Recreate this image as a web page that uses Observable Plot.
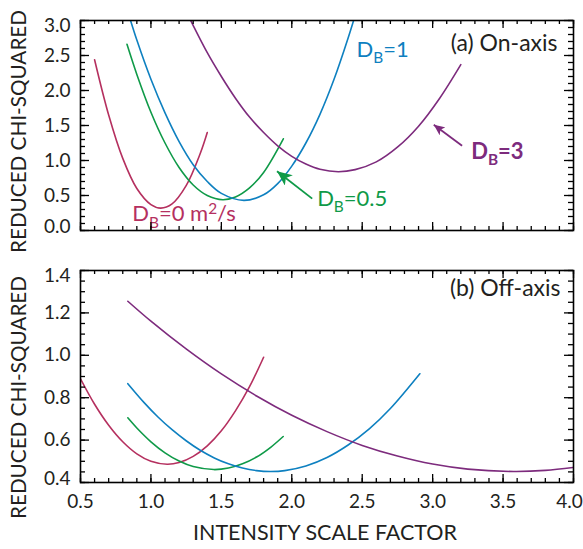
<!DOCTYPE html>
<html><head><meta charset="utf-8">
<script src="https://cdn.jsdelivr.net/npm/d3@7"></script>
<script src="https://cdn.jsdelivr.net/npm/@observablehq/plot@0.6"></script>
<style>
body{margin:0;background:#fff;}
#chart{width:583px;height:549px;position:relative;font-family:Lato,sans-serif;}
#chart svg{display:block;}
</style></head><body><div id="chart"></div>
<script>
// ---------- data ----------
const seriesNames = ["0", "0.5", "1", "3"];
const seriesColors = ["#b5305f", "#0f9a48", "#0e80c0", "#7d2b7d"];

// (a) On-axis
const onX_0  = [0.60, 0.70, 0.80, 0.90, 1.00, 1.07, 1.15, 1.25, 1.35, 1.40];
const onY_0  = [2.44, 1.65, 1.03, 0.60, 0.37, 0.32, 0.38, 0.64, 1.10, 1.40];
const onX_05 = [0.83, 0.90, 1.00, 1.10, 1.20, 1.30, 1.40, 1.51, 1.60, 1.70, 1.80, 1.94];
const onY_05 = [2.66, 2.23, 1.69, 1.25, 0.90, 0.65, 0.50, 0.44, 0.48, 0.61, 0.83, 1.31];
const onX_1  = [0.84, 0.90, 1.00, 1.10, 1.20, 1.30, 1.40, 1.50, 1.66, 1.80, 1.90, 2.00, 2.10, 2.20, 2.30, 2.40, 2.46];
const onY_1  = [3.10, 2.72, 2.16, 1.68, 1.27, 0.94, 0.70, 0.53, 0.43, 0.51, 0.67, 0.92, 1.25, 1.66, 2.16, 2.75, 3.14];
const onX_3  = [1.26, 1.40, 1.50, 1.60, 1.70, 1.80, 1.90, 2.00, 2.10, 2.20, 2.33, 2.45, 2.60, 2.75, 2.90, 3.05, 3.20];
const onY_3  = [3.09, 2.54, 2.20, 1.89, 1.62, 1.40, 1.21, 1.06, 0.95, 0.875, 0.84, 0.87, 0.98, 1.19, 1.49, 1.89, 2.37];

// (b) Off-axis
const offX_0  = [0.50, 0.60, 0.70, 0.80, 0.90, 1.00, 1.115, 1.20, 1.30, 1.40, 1.50, 1.60, 1.70, 1.80];
const offY_0  = [0.889, 0.769, 0.670, 0.592, 0.535, 0.500, 0.486, 0.494, 0.523, 0.573, 0.644, 0.738, 0.852, 0.991];
const offX_05 = [0.836, 0.90, 1.00, 1.10, 1.20, 1.30, 1.446, 1.55, 1.65, 1.75, 1.85, 1.939];
const offY_05 = [0.705, 0.657, 0.592, 0.540, 0.501, 0.475, 0.461, 0.468, 0.488, 0.520, 0.566, 0.617];
const offX_1  = [0.836, 0.95, 1.05, 1.15, 1.25, 1.35, 1.45, 1.55, 1.65, 1.75, 1.849, 1.95, 2.10, 2.25, 2.40, 2.55, 2.70, 2.909];
const offY_1  = [0.866, 0.778, 0.709, 0.649, 0.597, 0.552, 0.516, 0.488, 0.468, 0.456, 0.452, 0.456, 0.478, 0.518, 0.577, 0.653, 0.749, 0.913];
const offX_3  = [0.836, 1.00, 1.25, 1.50, 1.75, 2.00, 2.25, 2.50, 2.75, 3.00, 3.25, 3.574, 3.80, 4.00];
const offY_3  = [1.255, 1.161, 1.030, 0.912, 0.808, 0.717, 0.640, 0.575, 0.525, 0.487, 0.463, 0.452, 0.457, 0.471];

// ticks
const xTicks = [0.5, 1.0, 1.5, 2.0, 2.5, 3.0, 3.5, 4.0];
const xTickLabels = ["0.5", "1.0", "1.5", "2.0", "2.5", "3.0", "3.5", "4.0"];
const topYTicks = [0.0, 0.5, 1.0, 1.5, 2.0, 2.5, 3.0];
const topYTickLabels = ["0.0", "0.5", "1.0", "1.5", "2.0", "2.5", "3.0"];
const botYTicks = [0.4, 0.6, 0.8, 1.0, 1.2, 1.4];
const botYTickLabels = ["0.4", "0.6", "0.8", "1.0", "1.2", "1.4"];
const xMinor = d3.range(5, 41).map(i => i / 10);
const topYMinor = d3.range(0, 31).map(i => i / 10);
const botYMinor = d3.range(8, 29).map(i => i / 20);

// annotations
const topLabels = [
  {x: 0.867, y: 0.23, text: "D_B=0 m^2/s", s: 0},
  {x: 2.180, y: 0.455, text: "D_B=0.5", s: 1},
  {x: 2.459, y: 2.58, text: "D_B=1", s: 2}
];
const topBoldLabels = [
  {x: 3.274, y: 1.12, text: "D_B=3", s: 3}
];
const topArrows = [
  {x1: 2.145, y1: 0.455, x2: 1.895, y2: 0.847, s: 1},
  {x1: 3.209, y1: 1.212, x2: 3.008, y2: 1.51, s: 3}
];

// ---------- build ----------
function rows(xs, ys, s) { return xs.map((x, i) => ({x, y: ys[i], s})); }
const onData = [...rows(onX_0, onY_0, 0), ...rows(onX_05, onY_05, 1), ...rows(onX_1, onY_1, 2), ...rows(onX_3, onY_3, 3)];
const offData = [...rows(offX_0, offY_0, 0), ...rows(offX_05, offY_05, 1), ...rows(offX_1, offY_1, 2), ...rows(offX_3, offY_3, 3)];

const W = 583, ML = 80, MR = 10;
const PW = W - ML - MR;
const ink = "#231f20";
const FONT = "Lato, sans-serif";
const LFS = 22; // annotation font size

function tickMarks(PH, yMaj, yMin) {
  const st = {stroke: "#000", strokeWidth: 1.3};
  return [
    Plot.tickX(xMinor, {x: d => d, insetTop: PH - 4, ...st}),
    Plot.tickX(xMinor, {x: d => d, insetBottom: PH - 4, ...st}),
    Plot.tickX(xTicks, {x: d => d, insetTop: PH - 8, ...st}),
    Plot.tickX(xTicks, {x: d => d, insetBottom: PH - 8, ...st}),
    Plot.tickY(yMin, {y: d => d, insetRight: PW - 5, ...st}),
    Plot.tickY(yMin, {y: d => d, insetLeft: PW - 5, ...st}),
    Plot.tickY(yMaj, {y: d => d, insetRight: PW - 9, ...st}),
    Plot.tickY(yMaj, {y: d => d, insetLeft: PW - 9, ...st})
  ];
}
function yLabels(vals, labels) {
  const fmt = d => labels[vals.indexOf(d)];
  const common = {anchor: "left", tickSize: 0, tickPadding: 10, fontSize: 19, fill: ink, label: null, tickFormat: fmt};
  return [
    Plot.axisY(vals.slice(1, -1), common),
    Plot.axisY([vals[vals.length - 1]], {...common, dy: 5}),
    Plot.axisY([vals[0]], {...common, dy: -4})
  ];
}
function lines(data) {
  return seriesNames.map((n, s) => Plot.line(data.filter(d => d.s === s), {
    x: "x", y: "y", stroke: seriesColors[s], strokeWidth: 1.6, curve: "catmull-rom", clip: true
  }));
}
const yTitle = (dy) => Plot.text(["REDUCED CHI-SQUARED"], {
  frameAnchor: "left", dx: -61, dy, rotate: -90, fontSize: 20.7, fill: ink, textAnchor: "middle", lineAnchor: "middle"
});

// top panel
const topH = 250, topPH = 210;
const topPlot = Plot.plot({
  width: W, height: topH, marginLeft: ML, marginRight: MR, marginTop: 20, marginBottom: 20,
  style: {fontFamily: FONT, background: "#fff", overflow: "visible"},
  x: {domain: [0.5, 4.0], axis: null},
  y: {domain: [0, 3.0], axis: null},
  marks: [
    ...lines(onData),
    Plot.link(topArrows, {x1: "x1", y1: "y1", x2: "x2", y2: "y2", stroke: d => seriesColors[d.s], strokeWidth: 1.8}),
    Plot.text(topLabels, {x: "x", y: "y", text: "text", fill: d => seriesColors[d.s],
      fontSize: LFS, textAnchor: "start", lineAnchor: "middle"}),
    Plot.text(topBoldLabels, {x: "x", y: "y", text: "text", fill: d => seriesColors[d.s], fontWeight: "bold",
      fontSize: LFS, textAnchor: "start", lineAnchor: "middle"}),
    Plot.text(["(a) On-axis"], {frameAnchor: "top-right", dx: -16, dy: 23, fontSize: 23, fill: ink, textAnchor: "end", lineAnchor: "middle"}),
    ...tickMarks(topPH, topYTicks, topYMinor),
    Plot.frame({stroke: "#000", strokeWidth: 1.6}),
    ...yLabels(topYTicks, topYTickLabels),
    yTitle(6)
  ]
});

// bottom panel
const botH = 299, botPH = 212;
const xCommon = {tickSize: 0, tickPadding: 12, fontSize: 19, fill: ink, label: null,
  tickFormat: d => xTickLabels[xTicks.indexOf(d)]};
const bottomPlot = Plot.plot({
  width: W, height: botH, marginLeft: ML, marginRight: MR, marginTop: 20, marginBottom: 67,
  style: {fontFamily: FONT, background: "#fff", overflow: "visible"},
  x: {domain: [0.5, 4.0]},
  y: {domain: [0.4, 1.4], axis: null},
  marks: [
    ...lines(offData),
    Plot.text(["(b) Off-axis"], {frameAnchor: "top-right", dx: -13, dy: 18, fontSize: 23, fill: ink, textAnchor: "end", lineAnchor: "middle"}),
    ...tickMarks(botPH, botYTicks, botYMinor),
    Plot.frame({stroke: "#000", strokeWidth: 1.6}),
    ...yLabels(botYTicks, botYTickLabels),
    Plot.axisX(xTicks.slice(0, -1), xCommon),
    Plot.axisX(xTicks.slice(-1), {...xCommon, dx: -4}),
    Plot.text(["INTENSITY SCALE FACTOR"], {frameAnchor: "bottom", dx: -2, dy: 51, fontSize: 21.5, fill: ink, lineAnchor: "middle"}),
    yTitle(21)
  ]
});

const chart = document.getElementById("chart");
chart.appendChild(topPlot);
chart.appendChild(bottomPlot);

// subscripts / superscripts in labels
d3.select(topPlot).selectAll("text").each(function () {
  const t = this.textContent;
  if (!t.startsWith("D_B")) return;
  const fs = LFS;
  const rest = t.slice(3);
  const el = d3.select(this);
  el.text(null);
  el.append("tspan").text("D");
  el.append("tspan").attr("dy", fs * 0.28).attr("font-size", fs * 0.7).text("B");
  if (rest.includes("^2")) {
    const [a, b] = rest.split("^2");
    el.append("tspan").attr("dy", -fs * 0.28).text(a);
    el.append("tspan").attr("dy", -fs * 0.36).attr("font-size", fs * 0.7).text("2");
    el.append("tspan").attr("dy", fs * 0.36).text(b);
  } else {
    el.append("tspan").attr("dy", -fs * 0.28).text(rest);
  }
});

// filled arrowheads
const svgTop = d3.select(topPlot);
const defs = svgTop.insert("defs", ":first-child");
const heads = {1: [15, 13], 3: [11, 10]};
for (const s of [1, 3]) {
  const [w, h] = heads[s];
  defs.append("marker").attr("id", "ah" + s)
    .attr("viewBox", `0 0 ${w} ${h}`).attr("refX", w).attr("refY", h / 2)
    .attr("markerWidth", w).attr("markerHeight", h).attr("markerUnits", "userSpaceOnUse").attr("orient", "auto")
    .append("path").attr("d", `M0,0 L${w},${h / 2} L0,${h} L${w * 0.25},${h / 2} Z`).attr("fill", seriesColors[s]);
}
svgTop.selectAll('g[aria-label="link"] path').each(function (d, i) {
  d3.select(this).attr("marker-end", `url(#ah${topArrows[i].s})`);
});
</script>
</body></html>
